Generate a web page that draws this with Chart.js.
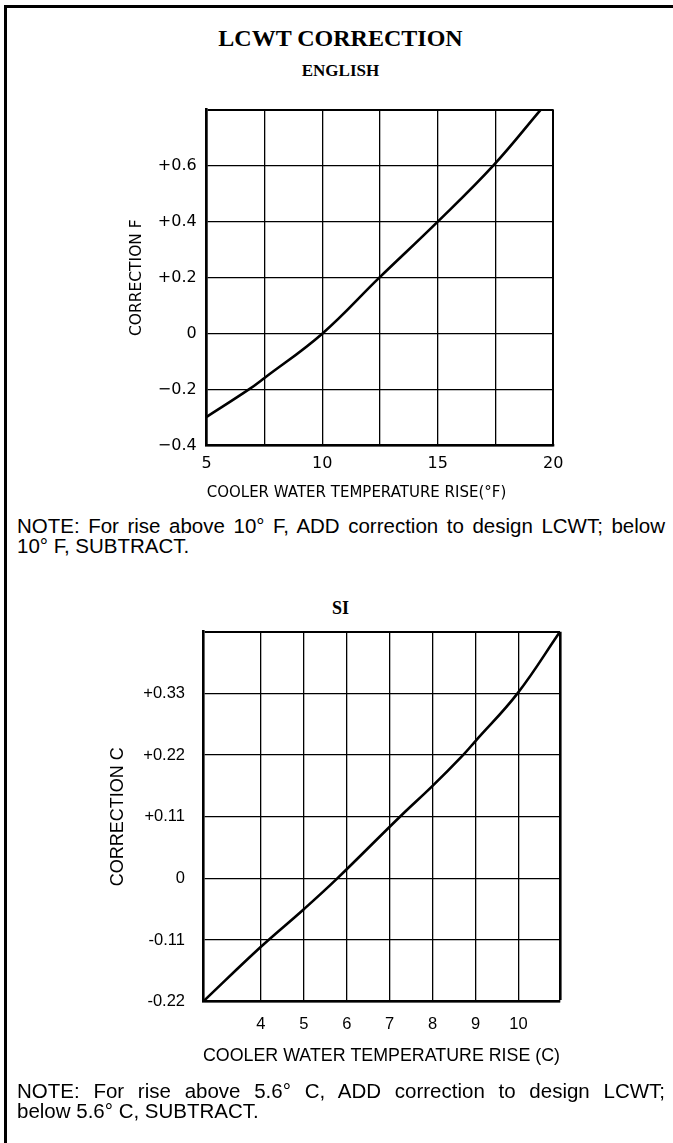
<!DOCTYPE html>
<html>
<head>
<meta charset="utf-8">
<script src="https://cdn.jsdelivr.net/npm/chart.js@4.4.1/dist/chart.umd.min.js"></script>
<style>
  body { margin: 0; background: #fff; }
  #page { position: relative; width: 673px; height: 1143px; overflow: hidden; background: #fff; }
  .frame { position: absolute; left: 4px; top: 5px; width: 700px; height: 1200px; border-top: 3px solid #000; border-left: 3px solid #000; }
  .head { position: absolute; left: 4px; width: 673px; text-align: center; font-family: "Liberation Serif", serif; font-weight: bold; color: #000; }
  .note { position: absolute; left: 17px; width: 648px; font-family: "Liberation Sans", Arial, sans-serif; font-size: 20.5px; line-height: 20px; color: #000; }
  .note .full { text-align: justify; text-align-last: justify; white-space: nowrap; }
  canvas { position: absolute; left: 0; }
</style>
</head>
<body>
<div id="page">
  <div class="frame"></div>
  <div class="head" style="top:24px;font-size:24px;line-height:28px">LCWT CORRECTION</div>
  <div class="head" style="top:61px;font-size:17px;line-height:20px">ENGLISH</div>
  <canvas id="englishChart" width="673" height="420" style="top:90px"></canvas>
  <div class="note" style="top:516px">
    <div class="full">NOTE: For rise above 10° F, ADD correction to design LCWT; below</div>
    <div>10° F, SUBTRACT.</div>
  </div>
  <div class="head" style="top:598px;font-size:18px;line-height:20px">SI</div>
  <canvas id="siChart" width="673" height="480" style="top:600px"></canvas>
  <div class="note" style="top:1081px">
    <div class="full">NOTE: For rise above 5.6° C, ADD correction to design LCWT;</div>
    <div>below 5.6° C, SUBTRACT.</div>
  </div>
</div>
<script>
// English chart (°F rise vs correction °F)
const englishRise = [5, 6.81, 7.5, 10, 12.47, 15, 17.4, 19.46];
const englishCorrection = [-0.297, -0.2, -0.158, 0, 0.2, 0.4, 0.6, 0.8];
const englishXRange = [5, 20];
const englishYRange = [-0.4, 0.8];
const englishXTicks = [5, 7.5, 10, 12.5, 15, 17.5, 20];
const englishXLabels = ['5', '', '10', '', '15', '', '20'];
const englishYTicks = [-0.4, -0.2, 0, 0.2, 0.4, 0.6, 0.8];
const englishYLabels = ['\u22120.4', '\u22120.2', '0', '+0.2', '+0.4', '+0.6', ''];

// SI chart (°C rise vs correction °C)
const siRise = [2.65, 4, 5, 5.78, 7.24, 8, 8.71, 9, 9.98, 10.97];
const siCorrection = [-0.22, -0.122, -0.055, 0, 0.11, 0.165, 0.22, 0.245, 0.33, 0.44];
const siXRange = [2.65, 10.97];
const siYRange = [-0.22, 0.44];
const siXTicks = [2.65, 4, 5, 6, 7, 8, 9, 10, 10.97];
const siXLabels = ['', '4', '5', '6', '7', '8', '9', '10', ''];
const siYTicks = [-0.22, -0.11, 0, 0.11, 0.22, 0.33, 0.44];
const siYLabels = ['-0.22', '-0.11', '0', '+0.11', '+0.22', '+0.33', ''];

const lettering = 'DejaVu Sans';
const helv = 'Liberation Sans';

function points(xs, ys) {
  return xs.map((x, i) => ({ x: x, y: ys[i] }));
}

// edge gridlines (top / right of the box) are a bit heavier
function gridWidth(count, edge) {
  return ctx => (ctx.index === count - 1 ? edge : 1.3);
}

function curveChart(id, cfg) {
  return new Chart(document.getElementById(id), {
    type: 'line',
    data: {
      datasets: [{
        data: points(cfg.rise, cfg.corr),
        borderColor: '#000',
        borderWidth: 2.6,
        pointRadius: 0,
        tension: 0.4,
        fill: false,
      }],
    },
    options: {
      responsive: false,
      animation: false,
      devicePixelRatio: 1,
      layout: { padding: cfg.padding },
      plugins: { legend: { display: false }, tooltip: { enabled: false } },
      scales: {
        x: {
          type: 'linear',
          min: cfg.xRange[0],
          max: cfg.xRange[1],
          afterBuildTicks: s => { s.ticks = cfg.xTicks.map(v => ({ value: v })); },
          afterFit: s => { s.height = cfg.xHeight; },
          grid: { color: '#000', lineWidth: gridWidth(cfg.xTicks.length, cfg.edge), drawTicks: false },
          border: { color: '#000', width: 2.6 },
          ticks: {
            color: '#000', padding: cfg.xTickPad, maxRotation: 0, autoSkip: false,
            font: cfg.tickFont,
            callback: (v, i) => cfg.xLabels[i],
          },
          title: {
            display: true, text: cfg.xTitle, align: cfg.xTitleAlign, color: '#000',
            font: cfg.titleFont, padding: { top: 0, bottom: cfg.xTitlePad },
          },
        },
        y: {
          type: 'linear',
          min: cfg.yRange[0],
          max: cfg.yRange[1],
          afterBuildTicks: s => { s.ticks = cfg.yTicks.map(v => ({ value: v })); },
          afterFit: s => { s.width = cfg.yWidth; },
          grid: { color: '#000', lineWidth: gridWidth(cfg.yTicks.length, 2), drawTicks: false },
          border: { color: '#000', width: 2.6 },
          ticks: {
            color: '#000', padding: cfg.yTickPad, autoSkip: false,
            font: cfg.tickFont,
            callback: (v, i) => cfg.yLabels[i],
          },
          title: {
            display: true, text: cfg.yTitle, color: '#000',
            font: cfg.yTitleFont, padding: { top: cfg.yTitlePad, bottom: 0 },
          },
        },
      },
    },
  });
}

curveChart('englishChart', {
  rise: englishRise, corr: englishCorrection,
  xRange: englishXRange, yRange: englishYRange,
  xTicks: englishXTicks, xLabels: englishXLabels,
  yTicks: englishYTicks, yLabels: englishYLabels,
  padding: { left: 0, right: 119.7, top: 12, bottom: 0 },
  xHeight: 64.3, yWidth: 206.7, edge: 2,
  tickFont: { family: lettering, size: 16 },
  titleFont: { family: lettering, size: 15 },
  yTitleFont: { family: lettering, size: 15.5 },
  xTickPad: 8.5, yTickPad: 10,
  xTitle: 'COOLER WATER TEMPERATURE RISE(°F)', xTitleAlign: 'start', xTitlePad: 8,
  yTitle: 'CORRECTION F', yTitlePad: 128,
});

curveChart('siChart', {
  rise: siRise, corr: siCorrection,
  xRange: siXRange, yRange: siYRange,
  xTicks: siXTicks, xLabels: siXLabels,
  yTicks: siYTicks, yLabels: siYLabels,
  padding: { left: 0, right: 113, top: 31.7, bottom: 0 },
  xHeight: 78.3, yWidth: 203, edge: 2.6,
  tickFont: { family: helv, size: 16.5 },
  titleFont: { family: helv, size: 19 },
  yTitleFont: { family: helv, size: 18 },
  xTickPad: 12.5, yTickPad: 18,
  xTitle: 'COOLER WATER TEMPERATURE RISE (C)', xTitleAlign: 'center', xTitlePad: 12.6,
  yTitle: 'CORRECTION C', yTitlePad: 107.2,
});
</script>
</body>
</html>
